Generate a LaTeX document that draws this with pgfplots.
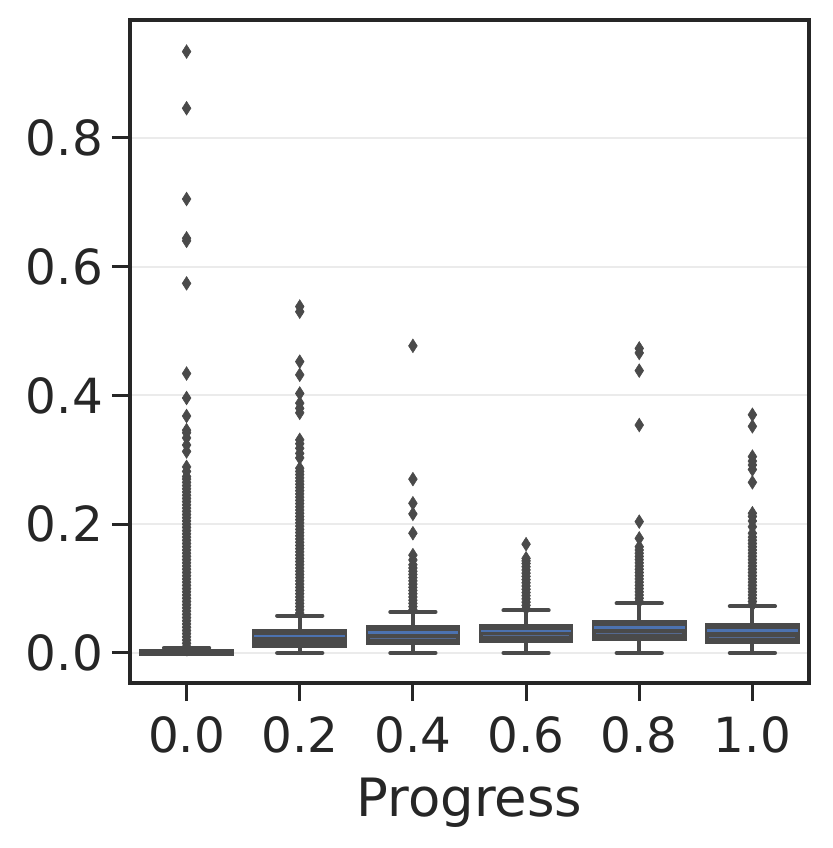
\documentclass[border=0pt]{standalone}
\usepackage{pgfplots}
\pgfplotsset{compat=1.18}
\usepgfplotslibrary{statistics}
\usepackage{fontspec}
\setmainfont{DejaVu Sans}
\definecolor{boxgray}{HTML}{4A4A4A}
\definecolor{axisgray}{HTML}{262626}
\definecolor{gridgray}{HTML}{EBEBEB}
\definecolor{medblue}{HTML}{4C72B0}
\definecolor{thinblue}{HTML}{55698F}
\begin{document}
\begin{tikzpicture}
\path[use as bounding box] (-65pt,-82.5pt) rectangle (351pt,341.5pt);
\begin{axis}[
  at={(0,0)}, anchor=south west,
  scale only axis, width=339.5pt, height=331.5pt,
  xmin=-0.5, xmax=5.5, ymin=-0.0466, ymax=0.983,
  xtick={0,1,2,3,4,5},
  xticklabels={0.0,0.2,0.4,0.6,0.8,1.0},
  ytick={0,0.2,0.4,0.6,0.8},
  yticklabels={0.0,0.2,0.4,0.6,0.8},
  tick align=outside,
  major tick length=9pt,
  tick style={axisgray, line width=1.5pt},
  xtick pos=bottom, ytick pos=left,
  axis line style={axisgray, line width=1.9pt},
  ymajorgrids, grid style={gridgray, line width=1pt},
  ticklabel style={font=\fontsize{24.2}{29}\selectfont, text=axisgray},
  xticklabel style={yshift=-4.5pt},
  yticklabel style={xshift=-1pt},
  /pgf/number format/assume math mode=true,
  xlabel={Progress},
  xlabel style={font=\fontsize{26.4}{32}\selectfont, text=axisgray, yshift=-5.5pt},
  clip=false,
  boxplot/draw direction=y,
]
% outliers
\addplot[only marks, mark=diamond*, mark size=3.4pt, mark options={xscale=0.85, fill=boxgray, draw=boxgray, line width=0.3pt}] coordinates {
(0,0.010)(0,0.015)(0,0.020)(0,0.025)(0,0.030)(0,0.035)(0,0.040)(0,0.045)(0,0.050)(0,0.055)
(0,0.060)(0,0.065)(0,0.070)(0,0.075)(0,0.080)(0,0.085)(0,0.090)(0,0.095)(0,0.100)(0,0.105)
(0,0.110)(0,0.115)(0,0.120)(0,0.125)(0,0.130)(0,0.135)(0,0.140)(0,0.145)(0,0.150)(0,0.155)
(0,0.160)(0,0.165)(0,0.170)(0,0.175)(0,0.180)(0,0.185)(0,0.190)(0,0.195)(0,0.200)(0,0.205)
(0,0.210)(0,0.215)(0,0.220)(0,0.225)(0,0.230)(0,0.235)(0,0.240)(0,0.245)(0,0.250)(0,0.255)
(0,0.260)(0,0.265)(0,0.270)(0,0.274)(0,0.282)(0,0.289)(0,0.313)(0,0.323)(0,0.334)(0,0.342)
(0,0.346)(0,0.368)(0,0.396)(0,0.434)(0,0.574)(0,0.640)(0,0.644)(0,0.705)(0,0.846)(0,0.934)
(1,0.062)(1,0.067)(1,0.072)(1,0.077)(1,0.082)(1,0.087)(1,0.092)(1,0.097)(1,0.102)(1,0.107)
(1,0.112)(1,0.117)(1,0.122)(1,0.127)(1,0.132)(1,0.137)(1,0.142)(1,0.147)(1,0.152)(1,0.157)
(1,0.162)(1,0.167)(1,0.172)(1,0.177)(1,0.182)(1,0.187)(1,0.192)(1,0.197)(1,0.202)(1,0.207)
(1,0.212)(1,0.217)(1,0.222)(1,0.227)(1,0.232)(1,0.237)(1,0.242)(1,0.247)(1,0.252)(1,0.257)
(1,0.262)(1,0.267)(1,0.272)(1,0.277)(1,0.282)(1,0.287)(1,0.303)(1,0.310)(1,0.318)(1,0.325)
(1,0.331)(1,0.373)(1,0.380)(1,0.388)(1,0.403)(1,0.432)(1,0.4525)(1,0.530)(1,0.538)
(2,0.067)(2,0.072)(2,0.077)(2,0.082)(2,0.087)(2,0.092)(2,0.097)(2,0.102)(2,0.107)(2,0.112)
(2,0.117)(2,0.122)(2,0.127)(2,0.132)(2,0.137)(2,0.1445)(2,0.152)(2,0.186)(2,0.216)(2,0.2325)
(2,0.270)(2,0.477)
(3,0.069)(3,0.074)(3,0.079)(3,0.084)(3,0.089)(3,0.094)(3,0.099)(3,0.104)(3,0.109)(3,0.114)
(3,0.119)(3,0.124)(3,0.129)(3,0.134)(3,0.139)(3,0.143)(3,0.147)(3,0.169)
(4,0.080)(4,0.085)(4,0.090)(4,0.095)(4,0.100)(4,0.105)(4,0.110)(4,0.115)(4,0.120)(4,0.125)
(4,0.130)(4,0.135)(4,0.140)(4,0.145)(4,0.150)(4,0.155)(4,0.160)(4,0.165)(4,0.178)(4,0.204)
(4,0.354)(4,0.4385)(4,0.466)(4,0.473)
(5,0.075)(5,0.080)(5,0.085)(5,0.090)(5,0.095)(5,0.100)(5,0.105)(5,0.110)(5,0.115)(5,0.120)
(5,0.125)(5,0.130)(5,0.135)(5,0.140)(5,0.145)(5,0.150)(5,0.155)(5,0.160)(5,0.165)(5,0.170)
(5,0.175)(5,0.180)(5,0.186)(5,0.196)(5,0.205)(5,0.212)(5,0.217)(5,0.265)(5,0.285)(5,0.292)
(5,0.298)(5,0.305)(5,0.352)(5,0.370)
};
% boxes
\pgfplotsset{
  boxplot/box extend=0.8,
  boxplot/whisker extend=0.4,
  boxplot/every box/.style={draw=boxgray, fill=boxgray, line width=2pt},
  boxplot/every whisker/.style={draw=boxgray, line width=2pt, line cap=round},
  boxplot/every median/.style={draw=medblue, line width=1.3pt},
}
\addplot[boxplot/every median/.style={draw=boxgray, line width=1pt},
  boxplot prepared={draw position=0, lower whisker=0, lower quartile=-0.002, median=0.001, upper quartile=0.003, upper whisker=0.008}] coordinates {};
\addplot[boxplot prepared={draw position=1, lower whisker=0, lower quartile=0.0109, median=0.0264, upper quartile=0.0347, upper whisker=0.058}] coordinates {};
\addplot[boxplot prepared={draw position=2, lower whisker=0, lower quartile=0.0155, median=0.0316, upper quartile=0.040, upper whisker=0.0637}] coordinates {};
\addplot[boxplot prepared={draw position=3, lower whisker=0, lower quartile=0.018, median=0.034, upper quartile=0.0425, upper whisker=0.066}] coordinates {};
\addplot[boxplot prepared={draw position=4, lower whisker=0, lower quartile=0.0215, median=0.040, upper quartile=0.0487, upper whisker=0.077}] coordinates {};
\addplot[boxplot prepared={draw position=5, lower whisker=0, lower quartile=0.0166, median=0.0347, upper quartile=0.0435, upper whisker=0.0725}] coordinates {};
% thin secondary lines
\addplot[thinblue, line width=0.6pt] coordinates {(1.62,0.0228) (2.38,0.0228)};
\addplot[thinblue, line width=0.6pt] coordinates {(2.62,0.027) (3.38,0.027)};
\addplot[thinblue, line width=0.6pt] coordinates {(3.62,0.0305) (4.38,0.0305)};
\addplot[thinblue, line width=0.6pt] coordinates {(4.62,0.0244) (5.38,0.0244)};
\end{axis}
\end{tikzpicture}
\end{document}
